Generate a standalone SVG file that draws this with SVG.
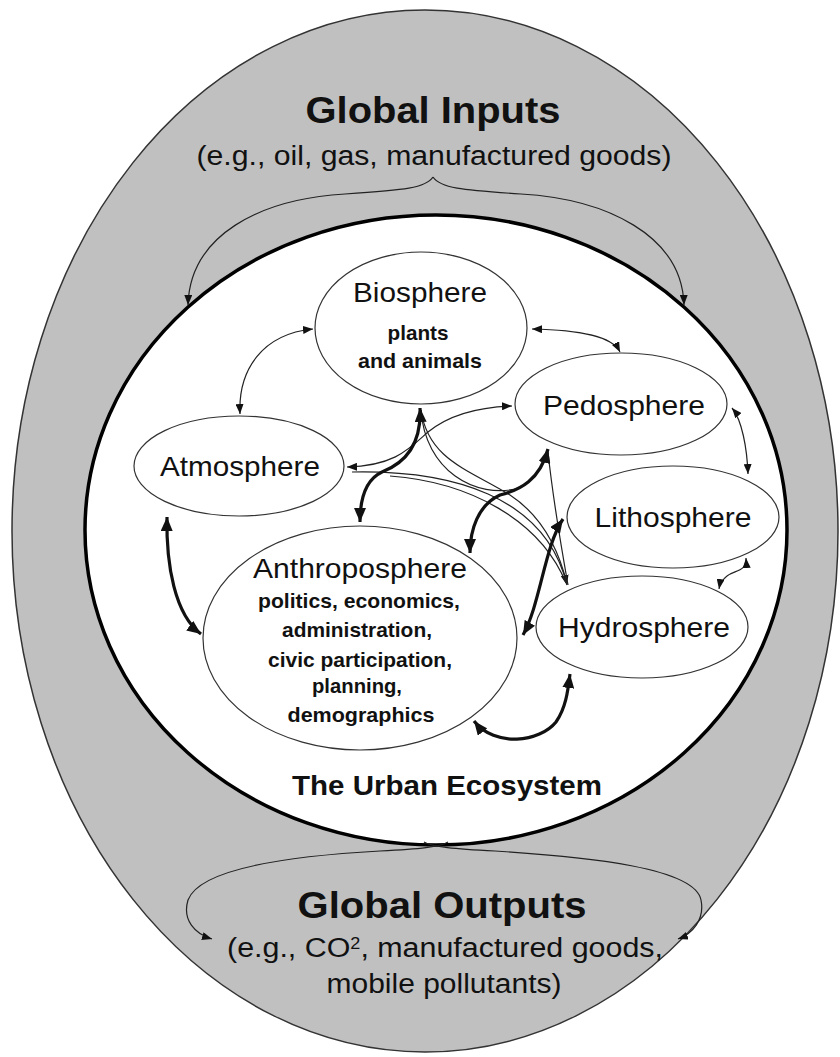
<svg xmlns="http://www.w3.org/2000/svg" width="840" height="1057" viewBox="0 0 840 1057">
<style>
.t{font-family:"Liberation Sans",Arial,Helvetica,sans-serif;fill:#111;text-anchor:middle}
.b{font-weight:bold}
.node{fill:#fff;stroke:#333;stroke-width:1.2}
.thin{fill:none;stroke:#222;stroke-width:1.2}
.thick{fill:none;stroke:#111;stroke-width:3.2}
</style>
<defs>
<marker id="at" markerUnits="userSpaceOnUse" markerWidth="10" markerHeight="8" refX="10" refY="4" orient="auto-start-reverse" viewBox="0 0 10 8"><path d="M0,0 L10,4 L0,8 z" fill="#111"/></marker>
<marker id="ak" markerUnits="userSpaceOnUse" markerWidth="14" markerHeight="12" refX="14" refY="6" orient="auto-start-reverse" viewBox="0 0 14 12"><path d="M0,0 L14,6 L0,12 z" fill="#111"/></marker>
</defs>
<rect width="840" height="1057" fill="#fff"/>
<g id="global">
<ellipse cx="425" cy="531" rx="413" ry="521" fill="#c0c0c0" stroke="#333" stroke-width="1.5"/>
<text class="t b" x="433" y="123" font-size="36" textLength="255" lengthAdjust="spacingAndGlyphs">Global Inputs</text>
<text class="t" x="434" y="165" font-size="27" textLength="475" lengthAdjust="spacingAndGlyphs">(e.g., oil, gas, manufactured goods)</text>
<text class="t b" x="442" y="918" font-size="36" textLength="289" lengthAdjust="spacingAndGlyphs">Global Outputs</text>
<text class="t" x="445" y="957" font-size="27" textLength="436" lengthAdjust="spacingAndGlyphs">(e.g., CO<tspan font-size="16" baseline-shift="super">2</tspan>, manufactured goods,</text>
<text class="t" x="444" y="993" font-size="27" textLength="235" lengthAdjust="spacingAndGlyphs">mobile pollutants)</text>
</g>
<g id="urban">
<ellipse cx="436" cy="530" rx="351" ry="315" fill="#fff" stroke="#000" stroke-width="3.5"/>
<text class="t b" x="447" y="795" font-size="28" textLength="310" lengthAdjust="spacingAndGlyphs">The Urban Ecosystem</text>
</g>
<g id="biosphere">
<ellipse class="node" cx="421" cy="328" rx="106" ry="76"/>
<text class="t" x="420" y="302" font-size="28" textLength="134" lengthAdjust="spacingAndGlyphs">Biosphere</text>
<text class="t b" x="418" y="340" font-size="21" textLength="61" lengthAdjust="spacingAndGlyphs">plants</text>
<text class="t b" x="420" y="368" font-size="21" textLength="124" lengthAdjust="spacingAndGlyphs">and animals</text>
</g>
<g id="atmosphere">
<ellipse class="node" cx="239" cy="466" rx="105" ry="50"/>
<text class="t" x="240" y="476" font-size="28" textLength="160" lengthAdjust="spacingAndGlyphs">Atmosphere</text>
</g>
<g id="pedosphere">
<ellipse class="node" cx="621" cy="404" rx="106" ry="51"/>
<text class="t" x="624" y="415" font-size="28" textLength="162" lengthAdjust="spacingAndGlyphs">Pedosphere</text>
</g>
<g id="lithosphere">
<ellipse class="node" cx="673" cy="517" rx="106" ry="51"/>
<text class="t" x="673" y="527" font-size="28" textLength="157" lengthAdjust="spacingAndGlyphs">Lithosphere</text>
</g>
<g id="hydrosphere">
<ellipse class="node" cx="642" cy="627" rx="106" ry="51"/>
<text class="t" x="644" y="637" font-size="28" textLength="172" lengthAdjust="spacingAndGlyphs">Hydrosphere</text>
</g>
<g id="anthroposphere">
<ellipse class="node" cx="360" cy="638" rx="157" ry="112"/>
<text class="t" x="360" y="578" font-size="28" textLength="214" lengthAdjust="spacingAndGlyphs">Anthroposphere</text>
<text class="t b" x="359" y="608" font-size="21" textLength="202" lengthAdjust="spacingAndGlyphs">politics, economics,</text>
<text class="t b" x="357" y="637" font-size="21" textLength="150" lengthAdjust="spacingAndGlyphs">administration,</text>
<text class="t b" x="360" y="667" font-size="21" textLength="184" lengthAdjust="spacingAndGlyphs">civic participation,</text>
<text class="t b" x="357" y="693" font-size="21" textLength="90" lengthAdjust="spacingAndGlyphs">planning,</text>
<text class="t b" x="361" y="722" font-size="21" textLength="147" lengthAdjust="spacingAndGlyphs">demographics</text>
</g>
<g id="connectors">
<path class="thin" d="M433,177 C426,188 405,190 345,194 C260,199 190,235 188,305" marker-end="url(#at)"/>
<path class="thin" d="M433,177 C440,188 461,190 521,194 C606,199 682,235 684,305" marker-end="url(#at)"/>
<path class="thin" d="M448,842 C440,847 420,849 380,851 C290,856 200,868 188,900 C182,920 195,934 212,939" marker-end="url(#at)"/>
<path class="thin" d="M424,842 C432,847 455,849 495,851 C590,857 695,868 701,900 C705,920 692,934 678,939" marker-end="url(#at)"/>
<path class="thin" d="M240,414 C238,370 262,334 313,329" marker-start="url(#at)" marker-end="url(#at)"/>
<path class="thin" d="M532,329 C580,330 612,336 620,352" marker-start="url(#at)" marker-end="url(#at)"/>
<path class="thin" d="M347,467 C395,466 410,448 428,432 C450,414 480,407 512,406" marker-start="url(#at)" marker-end="url(#at)"/>
<path class="thin" d="M732,408 C742,420 747,448 748,474" marker-start="url(#at)" marker-end="url(#at)"/>
<path class="thin" d="M746,558 C747,572 734,570 727,576 C722,580 720,583 719,589" marker-start="url(#at)" marker-end="url(#at)"/>
<path class="thin" d="M352,472 C450,470 545,495 567,585" marker-end="url(#at)"/>
<path class="thin" d="M390,476 C470,482 540,520 566,583"/>
<path class="thin" d="M421,410 C428,460 470,470 510,495 C545,518 560,555 567,584"/>
<path class="thin" d="M548,452 C552,490 560,540 568,585"/>
<path class="thin" d="M421,410 C425,470 475,500 520,488"/>
<path class="thick" d="M420,408 C422,450 400,465 382,472 C365,480 360,500 360,522" marker-start="url(#ak)" marker-end="url(#ak)"/>
<path class="thick" d="M548,449 C540,480 520,490 500,495 C478,505 470,530 470,553" marker-start="url(#ak)" marker-end="url(#ak)"/>
<path class="thick" d="M563,519 C545,545 540,605 523,635" marker-start="url(#ak)" marker-end="url(#ak)"/>
<path class="thick" d="M167,517 C166,565 175,615 201,634" marker-start="url(#ak)" marker-end="url(#ak)"/>
<path class="thick" d="M474,721 C495,748 540,742 556,722 C566,708 568,690 570,674" marker-start="url(#ak)" marker-end="url(#ak)"/>
</g>
</svg>
